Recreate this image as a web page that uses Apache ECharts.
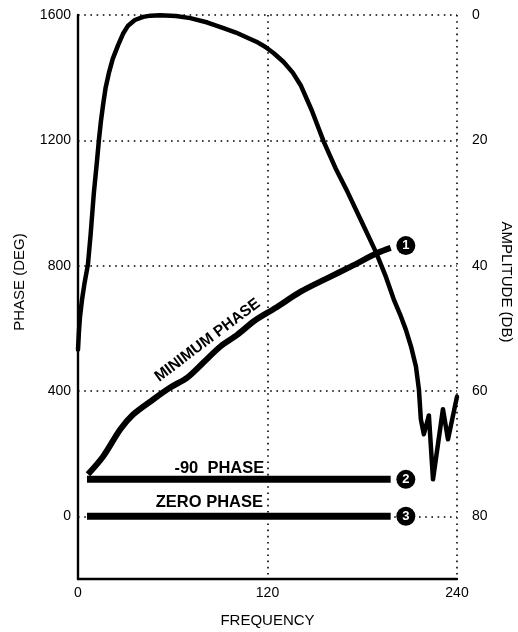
<!DOCTYPE html>
<html><head><meta charset="utf-8">
<script src="https://cdn.jsdelivr.net/npm/echarts@6/dist/echarts.min.js"></script>
<style>html,body{margin:0;padding:0;background:#fff}#c{width:518px;height:632px}</style>
</head><body><div id="c"></div>
<script>
// Data
const xTicks = [0, 120, 240];
const phaseTickLabels = [0, 400, 800, 1200, 1600];
const ampTickLabels = [0, 20, 40, 60, 80];
// amplitude curve: [frequency, amplitude dB]
const amplitude = [
  [0, 53.4], [0.6, 50.5], [1.3, 48.1], [2.5, 45.5], [4, 43], [6.3, 39.8], [8, 35], [10, 28.5],
  [12.1, 23.1], [13.3, 19.8], [14.5, 17], [15.9, 14.3], [17.5, 11.6], [19.7, 9.1], [22, 7],
  [25.4, 4.8], [28.5, 3], [31.7, 1.7], [36, 0.8], [41.3, 0.3], [46, 0.1], [52, 0.05], [62, 0.15],
  [71.1, 0.5], [82, 1.2], [92.1, 2.1], [100, 2.8], [108, 3.7], [114, 4.4], [118.7, 5.1],
  [124, 6.1], [130.2, 7.5], [136, 9.2], [141, 11.2], [148, 15.2], [155.6, 20.2],
  [163, 24.4], [170.8, 28.3], [180, 33.2], [188.6, 37.8], [195, 41.8], [200, 45.4],
  [204, 47.8], [207.6, 50.2], [211, 53], [214, 56.1], [215.9, 59.8],
  [217.1, 64.5], [219, 66.9], [222.2, 63.9], [224.8, 74.1], [231.1, 62.9], [234.3, 67.7], [240, 60.9]
];
// minimum phase curve: [frequency, phase deg]
const minimumPhase = [
  [6.3, 134], [15.9, 191], [26.7, 277], [34.9, 325], [47.6, 373], [58.4, 411], [69.2, 443],
  [79.4, 491], [90.2, 542], [101, 580], [112, 625], [125, 665], [141, 717], [157, 758],
  [172.7, 797], [189.8, 841], [198, 857]
];
const minus90Phase = [[5.7, 118], [198, 118]];
const zeroPhase = [[5.7, 0], [198, 0]];
const markerLabels = ['1', '2', '3'];
const markerPoints = [[207.6, 864], [207.6, 118], [207.6, 0]];
const curveLabels = [
  { text: 'MINIMUM PHASE', at: [82, 562], rotate: 37, size: 15.5 },
  { text: '-90  PHASE', at: [89.5, 153], rotate: 0, size: 16.5 },
  { text: 'ZERO PHASE', at: [83.2, 43], rotate: 0, size: 16.5 }
];

const FONT = '"Liberation Sans", Arial, Helvetica, sans-serif';
const dotted = { color: '#000', width: 1.6, type: [1.6, 4.6] };

const chart = echarts.init(document.getElementById('c'), null, { renderer: 'canvas' });
chart.setOption({
  animation: false,
  backgroundColor: '#fff',
  grid: { left: 78, right: 61, top: 15, bottom: 53, containLabel: false, outerBoundsMode: 'none' },
  xAxis: {
    type: 'value', min: 0, max: 240, interval: 120,
    name: 'FREQUENCY', nameLocation: 'middle', nameGap: 34,
    nameTextStyle: { fontFamily: FONT, fontSize: 15, color: '#000' },
    axisLine: { show: true, onZero: false, lineStyle: { color: '#000', width: 2.4 } },
    axisTick: { show: false },
    axisLabel: { fontFamily: FONT, fontSize: 14, color: '#000', margin: 7,
      formatter: v => xTicks.includes(v) ? String(v) : '' },
    splitLine: { show: true, lineStyle: dotted },
    z: 3
  },
  yAxis: [
    {
      type: 'value', min: -200, max: 1600, interval: 200, position: 'left',
      name: 'PHASE (DEG)', nameLocation: 'middle', nameGap: 51,
      nameTextStyle: { fontFamily: FONT, fontSize: 15, color: '#000', padding: [0, 0, 0, 30] },
      axisLine: { show: true, onZero: false, lineStyle: { color: '#000', width: 2.4 } },
      axisTick: { show: false },
      axisLabel: { fontFamily: FONT, fontSize: 14, color: '#000', margin: 7,
        formatter: v => phaseTickLabels.includes(v) ? String(v) : '' },
      splitLine: { show: false },
      z: 3
    },
    {
      type: 'value', min: 0, max: 90, interval: 20, inverse: true, position: 'right',
      name: 'AMPLITUDE (DB)', nameLocation: 'middle', nameGap: 42, nameRotate: -90,
      nameTextStyle: { fontFamily: FONT, fontSize: 15, color: '#000', padding: [0, 30, 0, 0] },
      axisLine: { show: false },
      axisTick: { show: false },
      axisLabel: { fontFamily: FONT, fontSize: 14, color: '#000', margin: 15,
        formatter: v => ampTickLabels.includes(v) ? String(v) : '' },
      splitLine: { show: true, lineStyle: dotted }
    }
  ],
  series: [
    { type: 'line', yAxisIndex: 1, data: amplitude, symbol: 'none', smooth: false,
      lineStyle: { color: '#000', width: 4.5, join: 'round', cap: 'round' }, z: 5 },
    { type: 'line', yAxisIndex: 0, data: minimumPhase, symbol: 'none', smooth: 0.3,
      lineStyle: { color: '#000', width: 6 }, z: 5 },
    { type: 'line', yAxisIndex: 0, data: minus90Phase, symbol: 'none',
      lineStyle: { color: '#000', width: 7, cap: 'butt' }, z: 5 },
    { type: 'line', yAxisIndex: 0, data: zeroPhase, symbol: 'none',
      lineStyle: { color: '#000', width: 7, cap: 'butt' }, z: 5 },
    { type: 'scatter', yAxisIndex: 0, symbol: 'circle', symbolSize: 19,
      itemStyle: { color: '#000', opacity: 1 }, z: 6,
      data: markerPoints.map((p, i) => ({ value: p, name: markerLabels[i] })),
      label: { show: true, position: 'inside', formatter: p => p.name,
        color: '#fff', fontFamily: FONT, fontWeight: 'bold', fontSize: 13 } }
  ]
});

const graphics = curveLabels.map(l => {
  const px = chart.convertToPixel({ xAxisIndex: 0, yAxisIndex: 0 }, l.at);
  return {
    type: 'text', x: px[0], y: px[1], rotation: l.rotate * Math.PI / 180, z: 10,
    style: { text: l.text, fontFamily: FONT, fontWeight: 'bold', fontSize: l.size,
      fill: '#000', align: 'center', verticalAlign: 'middle' }
  };
});
chart.setOption({ graphic: graphics });
</script></body></html>
